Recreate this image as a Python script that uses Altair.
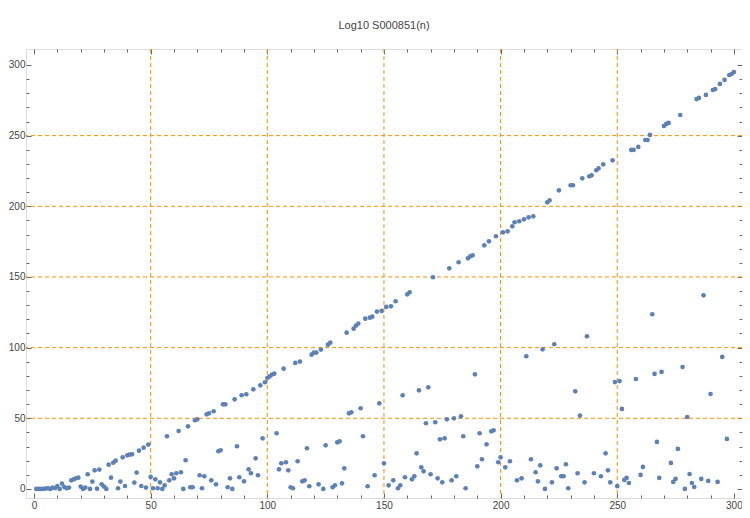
import altair as alt
import pandas as pd

# log10 values, n = 1..300
vals_001_050 = [0, 0, 0, 0, 0.3, 0.5, 0, 1, 0.5, 2.1,
                0, 3.8, 1.4, 0.5, 1, 6.1, 6.8, 7.5, 8, 1.7,
                0, 1, 10.4, 0, 5.2, 13.2, 0.2, 13.7, 3.3, 1.7,
                0, 17.2, 8, 18.6, 20, 0.5, 5.2, 22.4, 2.1, 23.8,
                24.3, 24.5, 4.5, 11.6, 27.1, 2.1, 29.2, 1, 31.4, 8.5]
vals_051_100 = [0.5, 6.8, 0.5, 4.7, 0, 2.6, 37.3, 6.1, 10.4, 7.5,
                11.1, 41, 11.8, 0, 20.3, 44.3, 1.2, 1.2, 48.6, 49.3,
                9.7, 0.5, 9, 52.8, 53.5, 6.1, 55, 3.3, 26.7, 27.4,
                59.9, 59.9, 1.2, 7.5, 0, 63.4, 30.2, 8.3, 66.3, 5.4,
                67, 13.9, 11.1, 70.5, 21.7, 9.7, 73.3, 35.8, 75.5, 78.5]
vals_101_150 = [79.6, 80.9, 81.6, 39.4, 13.9, 18.2, 85.1, 18.9, 13.2, 1.2,
                0.5, 89.2, 19.6, 90.1, 5.4, 6.1, 28.8, 1.9, 95, 96.5,
                96.5, 3.3, 98.6, 0, 30.9, 102.1, 103.5, 1.2, 2.6, 33,
                33.7, 4, 14.6, 110.6, 53.5, 54.2, 113.4, 115.6, 117, 57.1,
                37.3, 120.5, 1.9, 121.2, 121.9, 9.7, 125.5, 60.6, 126, 18.2]
vals_151_200 = [128.8, 2.6, 129.2, 6.1, 132.8, 0.5, 2.6, 66.3, 8.3, 137.7,
                139.2, 6.8, 9, 25.2, 69.8, 15.3, 12.5, 46.5, 71.9, 10.4,
                149.8, 47.2, 7.5, 35.1, 4.7, 35.8, 49.3, 156.1, 6.1, 50,
                9, 160.4, 51.4, 37.3, 0.5, 163.2, 164.6, 165.3, 81.1, 16,
                39.4, 21, 172.4, 31.6, 175.2, 40.8, 41.5, 178.8, 18.9, 22.4]
vals_201_250 = [181.6, 15.3, 182.3, 19.6, 185.8, 188.7, 6.1, 189.4, 7.5, 190.8,
                93.9, 192.2, 21, 192.9, 11.8, 5.4, 16.7, 98.8, 0, 202.8,
                204.2, 4.7, 102.4, 14.6, 211.3, 9, 9, 17.5, 0.5, 214.9,
                214.9, 69.1, 11.1, 51.9, 219.8, 4.7, 108, 221.2, 221.9, 11.1,
                225.5, 226.9, 9, 229.7, 25.2, 13.2, 4.7, 232.5, 75.6, 2]
vals_251_300 = [76.3, 56.6, 6.4, 7.8, 4.2, 239.9, 239.9, 77.8, 242, 9.9,
                15.6, 246.9, 246.9, 250.5, 123.6, 81.4, 33.3, 7.8, 82.8, 256.8,
                258.3, 259, 18.4, 5, 7.1, 28.3, 264.6, 86.3, 0, 50.9,
                10.6, 4.2, 1.4, 275.9, 276.7, 7.1, 137, 278.8, 5.7, 67.2,
                282.3, 283, 5, 286.6, 93.4, 289.4, 35.4, 292.9, 293.6, 295]

values = (vals_001_050 + vals_051_100 + vals_101_150 +
          vals_151_200 + vals_201_250 + vals_251_300)
n = list(range(1, len(values) + 1))

major_ticks = [0, 50, 100, 150, 200, 250, 300]
minor_x = [10, 20, 30, 40, 60, 70, 80, 90, 110, 120, 130, 140, 160, 170,
           180, 190, 210, 220, 230, 240, 260, 270, 280, 290]
minor_y = [10, 20, 30, 40, 60, 70, 80, 90, 110, 120, 130, 140, 160, 170,
           180, 190, 210, 220, 230, 240, 260, 270, 280, 290]
grid_vals = [50, 100, 150, 200, 250]

df = pd.DataFrame({"n": n, "v": values})
grid_df = pd.DataFrame({"g": grid_vals})

W, H = 716, 449
FRAME = "#666666"
LABEL = "#444444"
ORANGE = "#FF8C00"
POINT = "#5E81B5"

xs = alt.Scale(domain=[-3.43, 303.47], nice=False, zero=False)
ys = alt.Scale(domain=[-6.4, 311.3], nice=False, zero=False)


def tick_layer(xaxis, yaxis):
    return alt.Chart(df).mark_point(opacity=0).encode(
        x=alt.X("n:Q", scale=xs, title=None, axis=xaxis),
        y=alt.Y("v:Q", scale=ys, title=None, axis=yaxis),
    )


common = dict(grid=False, domain=False, labels=False, tickColor=FRAME, tickWidth=1)

# bottom/left inward major + minor ticks
l1 = tick_layer(alt.Axis(orient="top", offset=-H, values=major_ticks, tickSize=5, **common),
                alt.Axis(orient="right", offset=-W, values=major_ticks, tickSize=5, **common))
l2 = tick_layer(alt.Axis(orient="top", offset=-H, values=minor_x, tickSize=3, **common),
                alt.Axis(orient="right", offset=-W, values=minor_y, tickSize=3, **common))
# top/right inward major + minor ticks
l3 = tick_layer(alt.Axis(orient="bottom", offset=-H, values=major_ticks, tickSize=5, **common),
                alt.Axis(orient="left", offset=-W, values=major_ticks, tickSize=5, **common))
l4 = tick_layer(alt.Axis(orient="bottom", offset=-H, values=minor_x, tickSize=3, **common),
                alt.Axis(orient="left", offset=-W, values=minor_y, tickSize=3, **common))

vgrid = alt.Chart(grid_df).mark_rule(color=ORANGE, strokeDash=[4, 3], strokeWidth=1).encode(
    x=alt.X("g:Q", scale=xs, title=None, axis=None)
)
hgrid = alt.Chart(grid_df).mark_rule(color=ORANGE, strokeDash=[4, 3], strokeWidth=1).encode(
    y=alt.Y("g:Q", scale=ys, title=None, axis=None)
)

points = alt.Chart(df).mark_circle(color=POINT, size=22, opacity=1).encode(
    x=alt.X("n:Q", scale=xs, title=None,
            axis=alt.Axis(orient="bottom", values=major_ticks, grid=False, domain=False,
                          ticks=False, labelPadding=2, labelColor=LABEL, labelFontSize=10,
                          labelFont="Liberation Sans")),
    y=alt.Y("v:Q", scale=ys, title=None,
            axis=alt.Axis(orient="left", values=major_ticks, grid=False, domain=False,
                          ticks=False, labelPadding=1, labelColor=LABEL, labelFontSize=10,
                          labelFont="Liberation Sans")),
)

chart = alt.layer(vgrid, hgrid, l1, l2, l3, l4, points).resolve_axis(
    x="independent", y="independent"
).properties(
    width=W,
    height=H,
    title=alt.TitleParams("Log10 S000851(n)", fontSize=11, font="Liberation Sans",
                          fontWeight="normal", color=LABEL, offset=18, anchor="middle"),
    autosize=alt.AutoSizeParams(type="none"),
    padding={"left": 18, "top": 41, "right": 0, "bottom": 12},
).configure_view(
    stroke=FRAME, strokeWidth=1
).configure(background="white")

chart.save("out.html", embed_options={"renderer": "svg", "actions": False})
